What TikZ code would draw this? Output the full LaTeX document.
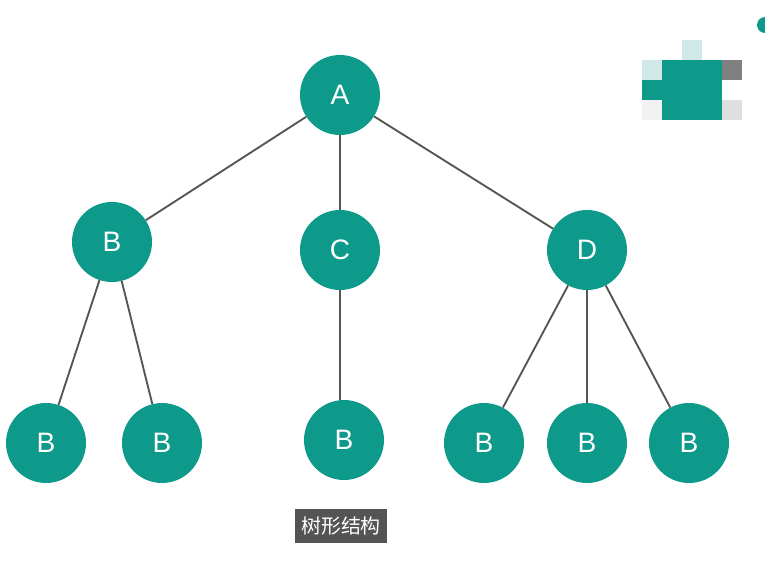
\documentclass[tikz,border=0pt]{standalone}
\usepackage{fontspec}
\setsansfont{Liberation Sans}
\newfontfamily\cjk{Noto Sans CJK SC}
\usepackage{tikz}
\usetikzlibrary{positioning}
\definecolor{treeteal}{RGB}{14,154,138}
\definecolor{edgegray}{RGB}{85,85,85}
\definecolor{capgray}{RGB}{84,84,84}
\definecolor{pixlight}{RGB}{208,232,232}
\definecolor{pixgray}{RGB}{128,128,128}
\tikzset{
  treenode/.style={circle, fill=treeteal, text=white, minimum size=2.4cm,
                   inner sep=0pt, font=\sffamily\fontsize{24}{28}\selectfont},
  treeedge/.style={draw=edgegray, line width=1.6pt},
  caption/.style={rectangle, fill=capgray, text=white, inner xsep=5pt,
                  inner ysep=7pt, font=\cjk\fontsize{17}{20}\selectfont},
}

\begin{document}
\begin{tikzpicture}[x=0.03cm, y=-0.03cm]
  \useasboundingbox (0,0) rectangle (765,562);

  % tree nodes
  \node[treenode] (a) at (340,95) {A};
  \node[treenode] (b) at (112,242) {B};
  \node[treenode] (c) at (340,250) {C};
  \node[treenode] (d) at (587,250) {D};
  \foreach \n/\x/\y in {b1/46/443, b2/162/443, c1/344/440,
                        d1/484/443, d2/587/443, d3/689/443}
    \node[treenode] (\n) at (\x,\y) {B};

  % edges
  \foreach \p/\q in {a/b, a/c, a/d, b/b1, b/b2, d/d1, d/d2, d/d3}
    \draw[treeedge] (\p) -- (\q);
  \draw[treeedge] (c) -- (c1.north -| c);

  % caption
  \node[caption] (cap) at (341,526) {树形结构};

  % blurred corner
  \fill[pixlight] (682,40) rectangle (702,60);
  \fill[pixlight] (642,60) rectangle (662,80);
  \fill[treeteal] (662,60) rectangle (722,120);
  \fill[treeteal] (642,80) rectangle (662,100);
  \fill[pixgray] (722,60) rectangle (742,80);
  \fill[gray!25] (722,100) rectangle (742,120);
  \fill[gray!10] (642,100) rectangle (662,120);
  \fill[treeteal] (765,25) circle (8);
\end{tikzpicture}
\end{document}
